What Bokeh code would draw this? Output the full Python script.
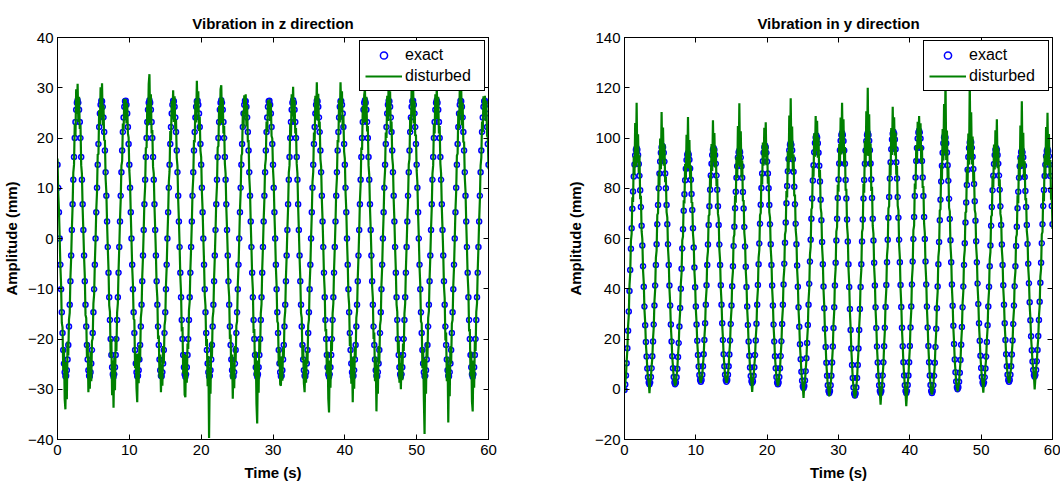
from bokeh.plotting import figure
from bokeh.models import Range1d, LinearAxis, FixedTicker, Legend, LegendItem, ColumnDataSource
from bokeh.layouts import row
from bokeh.embed import file_html
from bokeh.resources import INLINE

FONT = "Liberation Sans"

# ---------------- data ----------------
time_step_s = 0.1
x_ticks = [0, 10, 20, 30, 40, 50, 60]
z_ticks = [-40, -30, -20, -10, 0, 10, 20, 30, 40]
y_ticks = [-20, 0, 20, 40, 60, 80, 100, 120, 140]
legend_labels = ["exact", "disturbed"]
titles = ["Vibration in z direction", "Vibration in y direction"]
x_label = "Time (s)"
y_label = "Amplitude (mm)"

z_exact = [
14.7, 10.1, 5.2, 0.0, -5.2, -10.1, -14.7, -18.8, -22.2, -24.9, -26.6, -27.4, -27.3, -26.2, -24.1, -21.2, -17.5, -13.2, -8.5, -3.4,
1.7, 6.8, 11.7, 16.2, 20.0, 23.2, 25.6, 27.0, 27.5, 27.0, 25.6, 23.2, 20.0, 16.2, 11.7, 6.8, 1.7, -3.4, -8.5, -13.2,
-17.5, -21.2, -24.1, -26.2, -27.3, -27.4, -26.6, -24.9, -22.2, -18.8, -14.7, -10.1, -5.2, 0.0, 5.2, 10.1, 14.7, 18.8, 22.2, 24.9,
26.6, 27.4, 27.3, 26.2, 24.1, 21.2, 17.5, 13.2, 8.5, 3.4, -1.7, -6.8, -11.7, -16.2, -20.0, -23.2, -25.6, -27.0, -27.5, -27.0,
-25.6, -23.2, -20.0, -16.2, -11.7, -6.8, -1.7, 3.4, 8.5, 13.2, 17.5, 21.2, 24.1, 26.2, 27.3, 27.4, 26.6, 24.9, 22.2, 18.8,
14.7, 10.1, 5.2, 0.0, -5.2, -10.1, -14.7, -18.8, -22.2, -24.9, -26.6, -27.4, -27.3, -26.2, -24.1, -21.2, -17.5, -13.2, -8.5, -3.4,
1.7, 6.8, 11.7, 16.2, 20.0, 23.2, 25.6, 27.0, 27.5, 27.0, 25.6, 23.2, 20.0, 16.2, 11.7, 6.8, 1.7, -3.4, -8.5, -13.2,
-17.5, -21.2, -24.1, -26.2, -27.3, -27.4, -26.6, -24.9, -22.2, -18.8, -14.7, -10.1, -5.2, 0.0, 5.2, 10.1, 14.7, 18.8, 22.2, 24.9,
26.6, 27.4, 27.3, 26.2, 24.1, 21.2, 17.5, 13.2, 8.5, 3.4, -1.7, -6.8, -11.7, -16.2, -20.0, -23.2, -25.6, -27.0, -27.5, -27.0,
-25.6, -23.2, -20.0, -16.2, -11.7, -6.8, -1.7, 3.4, 8.5, 13.2, 17.5, 21.2, 24.1, 26.2, 27.3, 27.4, 26.6, 24.9, 22.2, 18.8,
14.7, 10.1, 5.2, 0.0, -5.2, -10.1, -14.7, -18.8, -22.2, -24.9, -26.6, -27.4, -27.3, -26.2, -24.1, -21.2, -17.5, -13.2, -8.5, -3.4,
1.7, 6.8, 11.7, 16.2, 20.0, 23.2, 25.6, 27.0, 27.5, 27.0, 25.6, 23.2, 20.0, 16.2, 11.7, 6.8, 1.7, -3.4, -8.5, -13.2,
-17.5, -21.2, -24.1, -26.2, -27.3, -27.4, -26.6, -24.9, -22.2, -18.8, -14.7, -10.1, -5.2, 0.0, 5.2, 10.1, 14.7, 18.8, 22.2, 24.9,
26.6, 27.4, 27.3, 26.2, 24.1, 21.2, 17.5, 13.2, 8.5, 3.4, -1.7, -6.8, -11.7, -16.2, -20.0, -23.2, -25.6, -27.0, -27.5, -27.0,
-25.6, -23.2, -20.0, -16.2, -11.7, -6.8, -1.7, 3.4, 8.5, 13.2, 17.5, 21.2, 24.1, 26.2, 27.3, 27.4, 26.6, 24.9, 22.2, 18.8,
14.7, 10.1, 5.2, 0.0, -5.2, -10.1, -14.7, -18.8, -22.2, -24.9, -26.6, -27.4, -27.3, -26.2, -24.1, -21.2, -17.5, -13.2, -8.5, -3.4,
1.7, 6.8, 11.7, 16.2, 20.0, 23.2, 25.6, 27.0, 27.5, 27.0, 25.6, 23.2, 20.0, 16.2, 11.7, 6.8, 1.7, -3.4, -8.5, -13.2,
-17.5, -21.2, -24.1, -26.2, -27.3, -27.4, -26.6, -24.9, -22.2, -18.8, -14.7, -10.1, -5.2, 0.0, 5.2, 10.1, 14.7, 18.8, 22.2, 24.9,
26.6, 27.4, 27.3, 26.2, 24.1, 21.2, 17.5, 13.2, 8.5, 3.4, -1.7, -6.8, -11.7, -16.2, -20.0, -23.2, -25.6, -27.0, -27.5, -27.0,
-25.6, -23.2, -20.0, -16.2, -11.7, -6.8, -1.7, 3.4, 8.5, 13.2, 17.5, 21.2, 24.1, 26.2, 27.3, 27.4, 26.6, 24.9, 22.2, 18.8,
14.7, 10.1, 5.2, 0.0, -5.2, -10.1, -14.7, -18.8, -22.2, -24.9, -26.6, -27.4, -27.3, -26.2, -24.1, -21.2, -17.5, -13.2, -8.5, -3.4,
1.7, 6.8, 11.7, 16.2, 20.0, 23.2, 25.6, 27.0, 27.5, 27.0, 25.6, 23.2, 20.0, 16.2, 11.7, 6.8, 1.7, -3.4, -8.5, -13.2,
-17.5, -21.2, -24.1, -26.2, -27.3, -27.4, -26.6, -24.9, -22.2, -18.8, -14.7, -10.1, -5.2, 0.0, 5.2, 10.1, 14.7, 18.8, 22.2, 24.9,
26.6, 27.4, 27.3, 26.2, 24.1, 21.2, 17.5, 13.2, 8.5, 3.4, -1.7, -6.8, -11.7, -16.2, -20.0, -23.2, -25.6, -27.0, -27.5, -27.0,
-25.6, -23.2, -20.0, -16.2, -11.7, -6.8, -1.7, 3.4, 8.5, 13.2, 17.5, 21.2, 24.1, 26.2, 27.3, 27.4, 26.6, 24.9, 22.2, 18.8,
14.7, 10.1, 5.2, 0.0, -5.2, -10.1, -14.7, -18.8, -22.2, -24.9, -26.6, -27.4, -27.3, -26.2, -24.1, -21.2, -17.5, -13.2, -8.5, -3.4,
1.7, 6.8, 11.7, 16.2, 20.0, 23.2, 25.6, 27.0, 27.5, 27.0, 25.6, 23.2, 20.0, 16.2, 11.7, 6.8, 1.7, -3.4, -8.5, -13.2,
-17.5, -21.2, -24.1, -26.2, -27.3, -27.4, -26.6, -24.9, -22.2, -18.8, -14.7, -10.1, -5.2, 0.0, 5.2, 10.1, 14.7, 18.8, 22.2, 24.9,
26.6, 27.4, 27.3, 26.2, 24.1, 21.2, 17.5, 13.2, 8.5, 3.4, -1.7, -6.8, -11.7, -16.2, -20.0, -23.2, -25.6, -27.0, -27.5, -27.0,
-25.6, -23.2, -20.0, -16.2, -11.7, -6.8, -1.7, 3.4, 8.5, 13.2, 17.5, 21.2, 24.1, 26.2, 27.3, 27.4, 26.6, 24.9, 22.2, 18.8,
14.7]

z_disturbed = [
15.9, 9.1, 5.8, 0.3, -5.5, -9.2, -16.8, -17.7, -26.2, -21.9, -31.9, -34.0, -24.6, -32.0, -20.5, -23.3, -16.1, -14.8, -7.7, -3.9,
1.9, 6.3, 13.1, 14.7, 22.8, 20.4, 29.7, 24.8, 30.8, 23.2, 28.2, 21.8, 22.6, 14.6, 12.8, 6.0, 1.5, -3.7, -7.5, -15.2,
-15.8, -23.7, -20.7, -30.6, -25.7, -29.9, -22.6, -28.4, -20.4, -19.9, -12.9, -11.1, -4.8, -0.2, 5.8, 9.2, 16.8, 16.7, 25.5, 22.7,
30.1, 24.1, 30.9, 22.5, 26.5, 19.5, 19.6, 11.9, 9.2, 3.1, -1.9, -6.0, -13.3, -14.6, -23.6, -20.0, -31.2, -24.3, -33.7, -23.8,
-30.2, -19.7, -22.4, -14.7, -12.9, -6.3, -1.8, 3.8, 7.7, 14.5, 15.4, 22.9, 21.7, 27.8, 24.0, 27.7, 22.9, 26.9, 20.9, 20.1,
13.5, 11.1, 4.9, -0.3, -5.8, -9.1, -16.0, -16.2, -25.8, -22.9, -29.8, -32.6, -22.9, -28.8, -21.2, -24.4, -15.8, -14.3, -7.5, -3.7,
1.6, 7.5, 10.3, 18.1, 18.0, 26.7, 22.5, 30.8, 32.7, 23.0, 28.7, 20.9, 21.6, 14.3, 12.9, 6.4, 1.9, -3.1, -9.5, -11.9,
-20.0, -19.3, -27.7, -23.1, -30.6, -25.2, -29.3, -21.4, -24.9, -17.3, -16.2, -9.2, -5.7, 0.2, 4.7, 11.3, 13.4, 21.4, 19.5, 27.4,
23.9, 29.5, 23.2, 28.3, 21.7, 23.7, 16.1, 14.4, 7.7, 3.7, -1.5, -7.6, -10.8, -18.5, -17.6, -26.9, -23.0, -31.1, -31.6, -23.2,
-28.7, -20.9, -22.0, -14.3, -12.6, -6.1, -1.9, 3.1, 9.4, 12.1, 19.6, 19.1, 27.5, 23.1, 31.4, 25.2, 29.3, 21.4, 24.2, 17.5,
16.2, 9.3, 5.7, 0.2, -4.7, -11.3, -13.4, -21.4, -20.0, -29.4, -23.4, -39.7, -25.7, -30.9, -20.5, -23.7, -15.8, -14.5, -7.8, -3.7,
1.5, 7.5, 10.5, 18.1, 18.4, 26.4, 22.5, 29.7, 30.5, 23.0, 27.9, 20.9, 22.4, 14.9, 12.9, 6.1, 1.9, -3.1, -9.4, -11.6,
-20.0, -19.1, -28.0, -23.1, -31.9, -24.7, -29.8, -21.4, -24.4, -17.3, -16.5, -9.1, -5.6, -0.2, 5.7, 9.3, 16.5, 16.9, 25.3, 21.9,
28.5, 24.9, 28.7, 22.3, 26.5, 19.1, 19.6, 12.1, 9.4, 3.1, -1.9, -7.5, -10.3, -18.8, -18.0, -27.4, -22.5, -32.9, -36.8, -24.3,
-30.7, -20.0, -22.8, -14.9, -13.1, -6.1, -1.8, 3.7, 7.7, 14.5, 15.8, 23.3, 21.2, 27.5, 24.6, 27.7, 23.4, 26.9, 20.4, 19.9,
13.8, 11.1, 4.8, 0.3, -5.7, -9.3, -16.5, -16.9, -25.3, -21.9, -29.0, -29.3, -23.5, -28.3, -21.7, -23.7, -16.1, -14.5, -7.7, -3.6,
1.8, 6.1, 13.1, 14.6, 22.8, 20.4, 28.7, 24.3, 30.2, 23.2, 27.6, 20.9, 22.0, 14.9, 12.9, 6.3, 1.6, -3.8, -7.8, -14.8,
-15.8, -24.2, -21.2, -28.8, -30.6, -24.1, -28.7, -22.4, -24.9, -17.3, -16.2, -9.1, -5.7, 0.2, 4.8, 11.3, 13.2, 21.1, 19.5, 28.4,
23.9, 31.1, 23.5, 28.8, 22.2, 23.3, 15.8, 14.3, 7.7, 3.7, -1.6, -7.5, -10.5, -18.5, -18.0, -26.9, -22.5, -31.9, -34.6, -24.3,
-29.7, -20.4, -22.4, -14.9, -12.9, -6.1, -1.9, 3.2, 9.4, 12.1, 19.6, 19.1, 27.5, 23.1, 31.1, 25.2, 29.3, 21.9, 24.4, 17.3,
15.9, 9.1, 5.7, -0.3, -4.8, -11.3, -13.2, -21.4, -19.5, -28.9, -23.9, -32.6, -23.5, -29.9, -21.7, -23.7, -15.8, -14.5, -7.8, -3.7,
1.5, 7.5, 10.8, 18.1, 17.6, 26.4, 23.0, 28.6, 29.7, 23.2, 28.2, 21.3, 22.4, 14.6, 12.6, 6.1, 1.9, -3.1, -9.5, -11.9,
-20.0, -18.7, -28.4, -23.6, -34.4, -25.2, -30.9, -21.4, -24.9, -17.3, -16.2, -9.1, -5.6, 0.3, 4.7, 11.1, 13.5, 21.1, 20.0, 28.4,
23.4, 31.2, 24.6, 29.3, 21.2, 23.3, 16.1, 14.5, 7.7, 3.6, -1.9, -6.3, -13.1, -14.6, -22.8, -20.4, -28.7, -24.8, -30.0, -23.2,
-28.2, -20.9, -22.4, -14.9, -12.9, -6.1, -1.6, 3.7, 7.8, 14.8, 15.8, 24.2, 21.2, 30.4, 24.6, 31.0, 22.9, 27.4, 20.4, 20.7,
13.5, 11.1, 4.7, 0.2, -5.7, -9.1, -16.5, -16.9, -25.8, -21.9, -31.9, -38.9, -24.0, -30.9, -20.7, -23.7, -15.8, -14.5, -7.8, -3.7,
1.9, 6.1, 12.9, 14.6, 22.8, 20.9, 28.7, 23.8, 30.3, 23.8, 28.2, 20.9, 22.4, 14.9, 12.9, 6.1, 1.8, -3.1, -9.5, -11.9,
-20.3, -18.7, -28.4, -23.6, -36.6, -25.2, -31.4, -21.4, -24.9, -16.9, -16.2, -9.3, -5.7, -0.2, 5.7, 9.3, 16.5, 16.9, 25.3, 21.9,
29.8, 24.7, 30.0, 22.5, 27.0, 19.1, 19.3, 12.1, 9.4, 3.1, -1.9, -7.5, -10.5, -18.5, -18.0, -27.4, -22.5, -32.4, -34.4, -24.3,
-29.7, -20.4, -22.4, -14.6, -12.9, -6.3, -1.8, 3.7, 7.7, 14.5, 16.1, 23.3, 21.2, 28.3, 24.6, 28.4, 23.4, 27.4, 20.4, 20.3,
13.8]

y_exact = [
-0.3, 1.9, 5.5, 10.3, 16.3, 23.3, 30.9, 39.1, 47.5, 55.9, 64.1, 71.8, 78.7, 84.7, 89.5, 93.1, 95.3, 96.0, 95.3, 93.2, 89.7, 85.0, 79.2, 72.5, 65.1, 57.2, 49.0, 40.8, 32.9, 25.5, 18.8, 13.0, 8.3, 4.8, 2.7,
2.0, 2.7, 4.9, 8.4, 13.1, 19.0, 25.8, 33.3, 41.3, 49.5, 57.7, 65.7, 73.3, 80.0, 85.9, 90.6, 94.1, 96.3, 97.0, 96.3, 94.1, 90.6, 85.9, 80.0, 73.3, 65.7, 57.7, 49.5, 41.3, 33.3, 25.8, 19.0, 13.1, 8.4, 4.9, 2.7,
2.0, 2.7, 4.8, 8.2, 12.8, 18.4, 25.0, 32.3, 40.0, 48.0, 56.0, 63.7, 71.0, 77.6, 83.2, 87.8, 91.2, 93.3, 94.0, 93.3, 91.3, 87.9, 83.4, 77.7, 71.3, 64.1, 56.4, 48.5, 40.6, 32.9, 25.8, 19.3, 13.6, 9.1, 5.7, 3.7,
3.0, 3.7, 5.8, 9.2, 13.9, 19.6, 26.3, 33.6, 41.4, 49.5, 57.6, 65.4, 72.8, 79.4, 85.1, 89.8, 93.2, 95.3, 96.0, 95.3, 93.2, 89.8, 85.1, 79.4, 72.8, 65.4, 57.6, 49.5, 41.4, 33.6, 26.3, 19.6, 13.9, 9.2, 5.8, 3.7,
3.0, 3.7, 5.8, 9.2, 13.8, 19.4, 26.0, 33.3, 41.0, 49.0, 57.0, 64.7, 72.0, 78.6, 84.2, 88.8, 92.2, 94.3, 95.0, 94.3, 92.2, 88.8, 84.2, 78.5, 71.9, 64.6, 56.8, 48.8, 40.7, 32.9, 25.6, 19.0, 13.3, 8.7, 5.3, 3.2,
2.5, 3.2, 5.4, 8.8, 13.6, 19.4, 26.1, 33.6, 41.5, 49.8, 58.0, 65.9, 73.4, 80.1, 85.9, 90.7, 94.1, 96.3, 97.0, 96.3, 94.1, 90.6, 85.9, 80.0, 73.3, 65.7, 57.7, 49.5, 41.3, 33.3, 25.8, 19.0, 13.1, 8.4, 4.9, 2.7,
2.0, 2.7, 4.9, 8.4, 13.2, 19.1, 26.0, 33.6, 41.7, 50.0, 58.3, 66.4, 74.0, 80.9, 86.8, 91.6, 95.1, 97.3, 98.0, 97.3, 95.1, 91.5, 86.6, 80.6, 73.6, 65.9, 57.7, 49.3, 40.8, 32.6, 24.9, 17.9, 11.9, 7.0, 3.4, 1.2,
0.5, 1.3, 3.5, 7.2, 12.3, 18.4, 25.6, 33.6, 42.0, 50.8, 59.5, 67.9, 75.9, 83.1, 89.2, 94.3, 98.0, 100.2, 101.0, 100.2, 97.9, 94.1, 89.0, 82.7, 75.4, 67.3, 58.6, 49.8, 40.9, 32.2, 24.1, 16.8, 10.5, 5.4, 1.6, -0.7,
-1.5, -0.7, 1.6, 5.4, 10.6, 17.0, 24.4, 32.6, 41.3, 50.3, 59.2, 67.9, 76.1, 83.5, 89.9, 95.1, 98.9, 101.2, 102.0, 101.2, 98.8, 95.0, 89.8, 83.3, 75.9, 67.6, 58.8, 49.8, 40.7, 31.9, 23.6, 16.2, 9.7, 4.5, 0.7, -1.7,
-2.5, -1.7, 0.7, 4.5, 9.7, 16.2, 23.6, 31.9, 40.7, 49.8, 58.8, 67.6, 75.9, 83.3, 89.8, 95.0, 98.8, 101.2, 102.0, 101.2, 98.9, 95.1, 89.9, 83.5, 76.1, 67.9, 59.2, 50.3, 41.3, 32.6, 24.4, 17.0, 10.6, 5.4, 1.6, -0.7,
-1.5, -0.7, 1.6, 5.5, 10.7, 17.1, 24.5, 32.7, 41.5, 50.5, 59.5, 68.3, 76.5, 83.9, 90.3, 95.5, 99.4, 101.7, 102.5, 101.7, 99.4, 95.5, 90.3, 83.9, 76.5, 68.3, 59.5, 50.5, 41.5, 32.7, 24.5, 17.1, 10.7, 5.5, 1.6, -0.7,
-1.5, -0.7, 1.7, 5.5, 10.7, 17.2, 24.6, 32.9, 41.7, 50.8, 59.8, 68.6, 76.9, 84.3, 90.8, 96.0, 99.8, 102.2, 103.0, 102.2, 99.8, 96.0, 90.8, 84.3, 76.9, 68.6, 59.8, 50.8, 41.7, 32.9, 24.6, 17.2, 10.7, 5.5, 1.7, -0.7,
-1.5, -0.7, 1.6, 5.4, 10.5, 16.8, 24.1, 32.2, 40.9, 49.8, 58.6, 67.3, 75.4, 82.7, 89.0, 94.1, 97.9, 100.2, 101.0, 100.2, 97.9, 94.2, 89.2, 83.0, 75.8, 67.8, 59.3, 50.5, 41.7, 33.2, 25.3, 18.0, 11.8, 6.8, 3.1, 0.8,
0.0, 0.8, 3.0, 6.6, 11.6, 17.7, 24.8, 32.6, 40.9, 49.5, 58.1, 66.4, 74.3, 81.3, 87.4, 92.4, 96.0, 98.2, 99.0, 98.3, 96.1, 92.5, 87.7, 81.7, 74.8, 67.1, 58.9, 50.5, 42.1, 33.9, 26.3, 19.3, 13.3, 8.5, 4.9, 2.7,
2.0, 2.7, 4.8, 8.3, 13.0, 18.8, 25.5, 32.9, 40.8, 49.0, 57.2, 65.1, 72.5, 79.2, 85.0, 89.7, 93.2, 95.3, 96.0, 95.3, 93.2, 89.8, 85.1, 79.4, 72.8, 65.4, 57.6, 49.5, 41.4, 33.6, 26.3, 19.6, 13.9, 9.2, 5.8, 3.7,
3.0, 3.7, 5.8, 9.2, 13.8, 19.4, 26.0, 33.3, 41.0, 49.0, 57.0, 64.7, 72.0, 78.6, 84.2, 88.8, 92.2, 94.3, 95.0, 94.3, 92.3, 89.0, 84.5, 78.9, 72.5, 65.4, 57.8, 50.0, 42.2, 34.6, 27.5, 21.1, 15.5, 11.0, 7.7, 5.7,
5.0, 5.7, 7.7, 11.1, 15.6, 21.2, 27.6, 34.8, 42.4, 50.3, 58.1, 65.7, 72.9, 79.3, 84.9, 89.4, 92.8, 94.8, 95.5, 94.8, 92.8, 89.4, 84.9, 79.3, 72.9, 65.7]

y_disturbed = [
-1.2, 2.3, 5.2, 11.0, 15.6, 24.9, 29.5, 41.4, 45.9, 59.0, 61.8, 76.4, 74.5, 92.6, 85.3, 106.0, 88.7, 114.0, 90.2, 101.5, 86.0, 93.1, 75.6, 77.0, 62.9, 59.8, 47.3, 42.5, 31.6, 26.6, 18.0, 13.6, 7.9, 4.2, 2.9,
-1.6, 3.1, 4.4, 9.1, 12.4, 20.2, 24.6, 35.1, 39.8, 52.3, 55.2, 69.4, 70.1, 86.5, 81.2, 99.8, 87.6, 110.3, 91.5, 104.2, 89.0, 97.5, 82.4, 84.6, 70.5, 68.4, 55.9, 51.2, 40.0, 34.5, 24.9, 19.8, 12.6, 8.9, 4.5, 2.9,
1.3, 2.4, 5.3, 7.8, 13.6, 17.5, 26.3, 30.9, 42.1, 46.2, 59.3, 60.8, 75.2, 73.9, 89.7, 83.5, 101.3, 88.1, 108.4, 87.9, 99.2, 83.6, 89.0, 74.1, 74.5, 61.9, 58.3, 46.9, 42.0, 31.8, 26.7, 18.6, 14.1, 8.7, 5.9, 3.3,
2.6, 4.0, 5.4, 9.8, 13.2, 20.6, 25.1, 35.4, 39.6, 52.1, 55.0, 69.0, 69.5, 85.2, 80.3, 97.6, 86.9, 107.1, 90.4, 102.0, 88.3, 96.1, 80.9, 83.8, 69.9, 68.0, 55.6, 51.3, 40.1, 34.8, 25.5, 20.3, 13.4, 9.6, 5.5, 3.9,
2.6, 3.3, 6.2, 8.7, 14.6, 18.5, 27.4, 31.8, 43.2, 46.9, 60.4, 61.5, 77.0, 74.2, 92.5, 84.0, 104.8, 89.1, 113.8, 88.6, 102.7, 84.3, 91.0, 74.8, 75.3, 62.2, 58.9, 47.1, 42.1, 31.7, 26.5, 18.4, 13.8, 8.3, 5.6, 2.8,
-1.1, 3.6, 4.9, 9.4, 12.9, 20.5, 24.8, 35.3, 39.7, 52.4, 55.5, 69.3, 70.2, 85.7, 81.5, 98.2, 89.0, 104.1, 92.3, 106.3, 89.2, 97.0, 81.8, 84.7, 70.4, 68.3, 55.8, 51.2, 39.9, 34.6, 24.9, 19.7, 12.6, 8.8, 4.6, 3.0,
1.3, 2.3, 5.4, 7.9, 14.0, 18.2, 27.5, 32.0, 44.0, 47.8, 61.6, 63.1, 78.9, 76.3, 94.7, 86.4, 108.9, 91.2, 115.8, 92.0, 104.6, 86.7, 93.4, 76.8, 77.5, 63.4, 60.2, 47.6, 42.4, 31.4, 25.9, 17.2, 12.4, 6.6, 3.7, 0.8,
-3.5, 1.8, 3.0, 7.8, 11.6, 19.5, 24.3, 35.4, 40.1, 53.6, 56.8, 71.6, 72.3, 88.8, 84.6, 101.9, 92.5, 108.7, 94.8, 106.9, 92.1, 100.3, 84.3, 87.4, 72.2, 70.1, 56.5, 51.6, 39.5, 33.4, 23.2, 17.5, 10.0, 5.8, 1.2, -0.4,
-2.8, -1.0, 2.1, 4.9, 11.3, 16.1, 25.9, 31.0, 43.6, 48.1, 62.8, 64.5, 81.4, 78.6, 97.6, 88.7, 108.2, 93.4, 114.0, 94.6, 107.5, 89.1, 96.4, 79.0, 79.8, 64.9, 61.3, 48.0, 42.3, 30.7, 24.5, 15.6, 10.2, 4.1, 1.0, -2.1,
-3.5, -2.2, 1.2, 4.0, 10.4, 15.3, 25.0, 30.2, 43.1, 47.5, 62.6, 64.0, 81.8, 78.2, 98.9, 88.4, 110.6, 93.0, 120.0, 92.8, 109.4, 88.6, 97.8, 78.9, 80.6, 65.0, 61.9, 48.4, 43.0, 31.3, 25.4, 16.3, 11.1, 5.0, 1.9, -1.2,
-6.1, -1.3, 0.9, 6.0, 10.0, 18.0, 23.3, 34.4, 39.6, 53.2, 56.8, 72.0, 72.9, 90.1, 85.1, 104.0, 93.2, 112.4, 95.6, 108.3, 93.0, 102.1, 85.4, 88.8, 73.1, 71.2, 57.3, 52.4, 40.0, 33.9, 23.6, 17.8, 10.2, 5.9, 1.1, -1.6,
-6.7, -1.9, 2.4, 4.9, 11.5, 16.3, 26.1, 31.2, 44.1, 48.5, 63.4, 65.1, 81.9, 79.6, 97.2, 90.1, 106.5, 95.6, 108.7, 96.0, 105.9, 90.2, 96.6, 80.1, 80.9, 66.0, 62.2, 49.0, 43.2, 31.8, 25.5, 16.6, 11.2, 5.1, 2.0, -1.0,
-2.1, -0.3, 1.1, 5.9, 9.8, 17.8, 22.9, 34.1, 38.8, 52.7, 55.8, 71.2, 71.6, 89.3, 83.4, 103.6, 91.1, 113.5, 93.8, 124.0, 91.2, 103.0, 84.0, 88.4, 72.3, 70.8, 57.1, 52.3, 40.2, 34.4, 24.4, 18.7, 11.3, 7.2, 2.7, 1.1,
-0.8, 1.3, 2.5, 7.1, 10.9, 18.7, 23.6, 34.4, 39.0, 52.3, 55.4, 70.3, 70.6, 87.9, 82.1, 101.8, 89.4, 123.0, 92.1, 110.2, 89.5, 100.6, 82.6, 86.5, 71.4, 69.9, 56.7, 52.2, 40.7, 35.1, 25.4, 20.0, 12.8, 8.9, 4.5, 2.3,
-1.4, 3.2, 4.3, 8.9, 12.3, 19.8, 24.3, 34.6, 39.0, 51.6, 54.7, 68.8, 69.2, 85.0, 80.4, 97.4, 87.5, 103.1, 90.6, 107.5, 88.0, 95.9, 80.8, 83.6, 69.8, 68.1, 55.5, 51.3, 40.0, 34.8, 25.4, 20.3, 13.3, 9.7, 5.4, 4.0,
2.6, 3.3, 6.3, 8.6, 14.6, 18.4, 27.4, 31.7, 43.3, 46.8, 60.5, 61.6, 77.2, 74.0, 92.3, 83.6, 105.0, 88.4, 114.6, 88.9, 102.1, 84.2, 90.7, 75.2, 76.1, 62.9, 60.0, 48.2, 43.7, 33.4, 28.4, 20.4, 16.0, 10.5, 8.0, 5.2,
-0.1, 4.3, 8.4, 10.4, 16.5, 20.1, 29.1, 33.1, 44.8, 48.0, 61.7, 62.6, 78.1, 74.8, 93.1, 84.1, 104.4, 89.3, 110.0, 89.1, 101.6, 84.6, 91.2, 75.4, 76.7, 63.8]


def times(series):
    return [round(i * time_step_s, 1) for i in range(len(series))]


def mirror_axis(ticks):
    return LinearAxis(ticker=FixedTicker(ticks=ticks), major_label_text_font_size="1px",
                      major_label_text_color=None, major_tick_in=5, major_tick_out=0,
                      minor_tick_line_color=None, major_label_standoff=0,
                      axis_line_color="black", major_tick_line_color="black")


def panel(title, exact, disturbed, y_rng, yticks, frame_w, b_left, b_right, label_standoff):
    p = figure(frame_width=frame_w, frame_height=402,
               x_range=Range1d(0, 60), y_range=Range1d(*y_rng),
               output_backend="svg", toolbar_location=None, title=title,
               min_border_left=b_left, min_border_right=b_right,
               min_border_top=37, min_border_bottom=40,
               background_fill_color="white", border_fill_color="white")
    p.title.text_font = FONT
    p.title.text_font_size = "15px"
    p.title.text_font_style = "bold"
    p.title.align = "center"
    p.title.text_color = "black"
    p.title.standoff = 11
    p.xgrid.visible = False
    p.ygrid.visible = False
    p.outline_line_color = "black"
    p.outline_line_alpha = 1.0
    p.outline_line_width = 1

    for ax, ticks in ((p.xaxis[0], x_ticks), (p.yaxis[0], yticks)):
        ax.ticker = FixedTicker(ticks=ticks)
        ax.major_tick_in = 5
        ax.major_tick_out = 0
        ax.minor_tick_line_color = None
        ax.axis_line_color = "black"
        ax.major_tick_line_color = "black"
        ax.major_label_text_font = FONT
        ax.major_label_text_font_size = "15px"
        ax.major_label_text_color = "black"
        ax.axis_label_text_font = FONT
        ax.axis_label_text_font_size = "15px"
        ax.axis_label_text_font_style = "bold"
        ax.axis_label_text_color = "black"
    p.xaxis.axis_label = x_label
    p.yaxis.axis_label = y_label
    p.xaxis.major_label_standoff = 5
    p.yaxis.major_label_standoff = 4
    p.xaxis.axis_label_standoff = 6
    p.yaxis.axis_label_standoff = label_standoff

    p.add_layout(mirror_axis(x_ticks), "above")
    p.add_layout(mirror_axis(yticks), "right")

    src_e = ColumnDataSource(dict(t=times(exact), v=exact))
    src_d = ColumnDataSource(dict(t=times(disturbed), v=disturbed))
    r_e = p.scatter("t", "v", source=src_e, marker="circle", size=5,
                    fill_color=None, line_color="#0000ff", line_width=1.5)
    r_d = p.line("t", "v", source=src_d, line_color="#008000", line_width=2.2)

    legend = Legend(items=[LegendItem(label=legend_labels[0], renderers=[r_e]),
                           LegendItem(label=legend_labels[1], renderers=[r_d])],
                    location="top_right")
    legend.border_line_color = "black"
    legend.border_line_width = 1
    legend.border_line_alpha = 1
    legend.background_fill_color = "white"
    legend.background_fill_alpha = 1
    legend.label_text_font = FONT
    legend.label_text_font_size = "16px"
    legend.label_text_color = "black"
    legend.glyph_width = 37
    legend.glyph_height = 18
    legend.label_height = 18
    legend.label_width = 74
    legend.label_standoff = 3
    legend.padding = 5
    legend.spacing = 3
    legend.margin = 3
    p.add_layout(legend)
    return p


p1 = panel(titles[0], z_exact, z_disturbed, (-40, 40), z_ticks, 431, 49, 70, 5)
p2 = panel(titles[1], y_exact, y_disturbed, (-20, 140), y_ticks, 428, 66, 8, 8)

layout = row(p1, p2)
open("out.html", "w").write(file_html(layout, INLINE))
